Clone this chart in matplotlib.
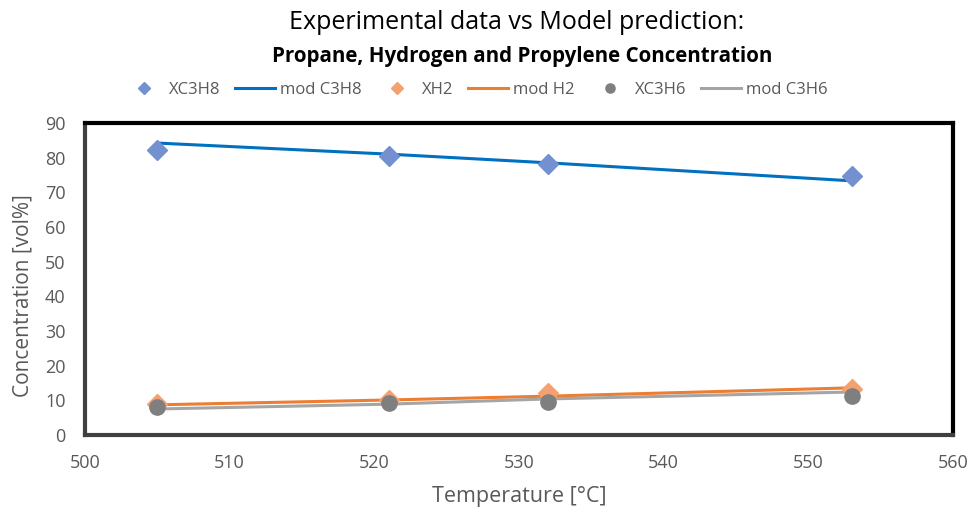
import matplotlib.pyplot as plt

# Data
temperature = [505, 521, 532, 553]

x_c3h8 = [82.3, 80.6, 78.2, 74.6]
mod_c3h8 = [84.2, 81.0, 78.5, 73.3]

x_h2 = [8.9, 10.1, 12.1, 13.3]
mod_h2 = [8.7, 10.1, 11.2, 13.6]

x_c3h6 = [8.1, 9.2, 9.5, 11.2]
mod_c3h6 = [7.5, 8.9, 10.4, 12.4]

plt.rcParams['font.family'] = ['Open Sans', 'DejaVu Sans']

fig, ax = plt.subplots(figsize=(9.71, 5.08), dpi=100)
fig.subplots_adjust(left=0.0875, right=0.9815, top=0.758, bottom=0.1437)

# Step 1: model lines
ax.plot(temperature, mod_c3h8, color='#0070C0', lw=2.2, label='mod C3H8', zorder=2)
ax.plot(temperature, mod_h2, color='#ED7D31', lw=2.2, label='mod H2', zorder=2)
ax.plot(temperature, mod_c3h6, color='#A5A5A5', lw=2.2, label='mod C3H6', zorder=2)

# Step 2: experimental points
ax.plot(temperature, x_c3h8, ls='none', marker='D', ms=10.5, color='#7490D0', label='XC3H8', zorder=3)
ax.plot(temperature, x_h2, ls='none', marker='D', ms=10.5, color='#F4A06F', label='XH2', zorder=3)
ax.plot(temperature, x_c3h6, ls='none', marker='o', ms=11, color='#7F7F7F', label='XC3H6', zorder=4)

ax.set_xlim(500, 560)
ax.set_ylim(0, 90)
ax.set_xticks(range(500, 561, 10))
ax.set_yticks(range(0, 91, 10))
ax.tick_params(length=0, labelsize=13, labelcolor='#595959')
ax.tick_params(axis='x', pad=14)
ax.tick_params(axis='y', pad=14)

for side in ['top', 'right']:
    ax.spines[side].set_color('black')
    ax.spines[side].set_linewidth(3)
for side in ['left', 'bottom']:
    ax.spines[side].set_color('#404040')
    ax.spines[side].set_linewidth(3)

ax.set_xlabel('Temperature [°C]', fontsize=15.5, color='#595959', labelpad=10)
ax.set_ylabel('Concentration [vol%]', fontsize=15, color='#595959')
ax.yaxis.set_label_coords(-0.059, 0.448)

fig.text(0.532, 0.955, 'Experimental data vs Model prediction:', ha='center', va='center',
         fontsize=18, color='black')
fig.text(0.538, 0.888, 'Propane, Hydrogen and Propylene Concentration', ha='center', va='center',
         fontsize=14.8, fontweight='bold', color='black')

# Step 3: legend in one row, same order as reference
handles, labels = ax.get_legend_handles_labels()
order = ['XC3H8', 'mod C3H8', 'XH2', 'mod H2', 'XC3H6', 'mod C3H6']
hmap = dict(zip(labels, handles))
leg = fig.legend([hmap[k] for k in order], order, loc='center', ncol=6,
                 bbox_to_anchor=(0.49, 0.823), frameon=False, fontsize=12,
                 handlelength=2.4, columnspacing=0.9, handletextpad=0.3, markerscale=0.6)
for t in leg.get_texts():
    t.set_color('#595959')

fig.savefig('out.png', dpi=100)
